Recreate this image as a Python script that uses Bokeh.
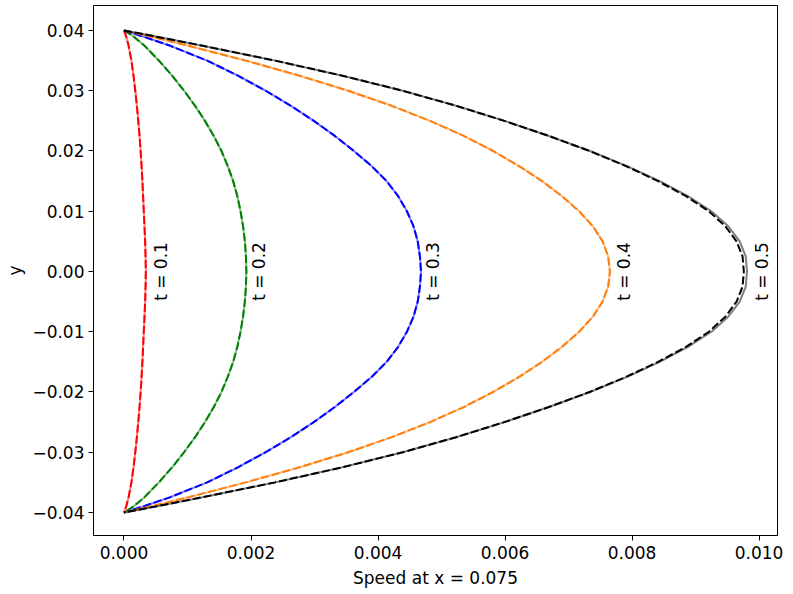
import math
from bokeh.plotting import figure
from bokeh.models import Range1d, FixedTicker, CustomJSTickFormatter, ColumnDataSource
from bokeh.embed import file_html
from bokeh.resources import INLINE
from bokeh.core.properties import value

# y positions across the channel (shared by all profiles)
y_vals = [0.04, 0.039, 0.0375, 0.035, 0.0325, 0.03, 0.0275, 0.025, 0.0225, 0.02,
          0.0175, 0.015, 0.0125, 0.01, 0.0075, 0.005, 0.0025, 0.0,
          -0.0025, -0.005, -0.0075, -0.01, -0.0125, -0.015, -0.0175, -0.02,
          -0.0225, -0.025, -0.0275, -0.03, -0.0325, -0.035, -0.0375, -0.039, -0.04]

# speeds in units of 1e-3
speed_t01 = [0, 0.035, 0.072, 0.117, 0.150, 0.178, 0.203, 0.225, 0.245, 0.262,
             0.277, 0.290, 0.301, 0.312, 0.323, 0.333, 0.340, 0.344,
             0.340, 0.333, 0.323, 0.312, 0.301, 0.290, 0.277, 0.262,
             0.245, 0.225, 0.203, 0.178, 0.150, 0.117, 0.072, 0.035, 0]
speed_t02 = [0, 0.15, 0.32, 0.55, 0.758, 0.947, 1.119, 1.275, 1.414, 1.535,
             1.634, 1.719, 1.785, 1.835, 1.875, 1.903, 1.920, 1.927,
             1.920, 1.903, 1.875, 1.835, 1.785, 1.719, 1.634, 1.535,
             1.414, 1.275, 1.119, 0.947, 0.758, 0.55, 0.32, 0.15, 0]
speed_t03 = [0, 0.30, 0.72, 1.31, 1.794, 2.231, 2.628, 2.989, 3.320, 3.620,
             3.899, 4.135, 4.317, 4.455, 4.559, 4.625, 4.660, 4.677,
             4.660, 4.625, 4.559, 4.455, 4.317, 4.135, 3.899, 3.620,
             3.320, 2.989, 2.628, 2.231, 1.794, 1.31, 0.72, 0.30, 0]
speed_t04 = [0, 0.42, 1.0, 1.92, 2.765, 3.531, 4.216, 4.820, 5.349, 5.813,
             6.222, 6.582, 6.898, 7.167, 7.383, 7.536, 7.624, 7.652,
             7.624, 7.536, 7.383, 7.167, 6.898, 6.582, 6.222, 5.813,
             5.349, 4.820, 4.216, 3.531, 2.765, 1.92, 1.0, 0.42, 0]
speed_t05 = [0, 0.50, 1.22, 2.38, 3.44, 4.39, 5.23, 5.99, 6.69, 7.33,
             7.905, 8.41, 8.85, 9.21, 9.47, 9.645, 9.74, 9.76,
             9.74, 9.645, 9.47, 9.21, 8.85, 8.41, 7.905, 7.33,
             6.69, 5.99, 5.23, 4.39, 3.44, 2.38, 1.22, 0.50, 0]
speed_t05_solid = [0, 0.50, 1.22, 2.38, 3.44, 4.39, 5.23, 5.99, 6.69, 7.34,
                   7.92, 8.435, 8.88, 9.25, 9.515, 9.695, 9.79, 9.81,
                   9.79, 9.695, 9.515, 9.25, 8.88, 8.435, 7.92, 7.34,
                   6.69, 5.99, 5.23, 4.39, 3.44, 2.38, 1.22, 0.50, 0]

times = ["0.1", "0.2", "0.3", "0.4", "0.5"]
colors = ["#ff0000", "#008000", "#0000ff", "#ff7f0e", "#000000"]
dashed_series = [speed_t01, speed_t02, speed_t03, speed_t04, speed_t05]
solid_series = [speed_t01, speed_t02, speed_t03, speed_t04, speed_t05_solid]
label_x = [0.575, 2.13, 4.86, 7.87, 10.05]  # 1e-3 units
label_text = ["t = " + t for t in times]

x_ticks = [0.0, 0.002, 0.004, 0.006, 0.008, 0.010]
y_ticks = [-0.04, -0.03, -0.02, -0.01, 0.0, 0.01, 0.02, 0.03, 0.04]

MILLI = 1e-3
FONT = "DejaVu Sans"
FS = "17px"

p = figure(width=793, height=594,
           x_range=Range1d(-0.00048, 0.01029), y_range=Range1d(-0.04382, 0.04415),
           output_backend="svg", toolbar_location=None,
           min_border_left=93, min_border_right=16, min_border_top=5, min_border_bottom=59)

p.background_fill_color = "white"
p.border_fill_color = "white"
p.outline_line_color = "black"
p.outline_line_width = 1
p.xgrid.visible = False
p.ygrid.visible = False

for sol, das, col in zip(solid_series, dashed_series, colors):
    src_s = ColumnDataSource(dict(x=[v * MILLI for v in sol], y=y_vals))
    src_d = ColumnDataSource(dict(x=[v * MILLI for v in das], y=y_vals))
    p.line("x", "y", source=src_s, line_color=col, line_alpha=0.5, line_width=2)
    p.line("x", "y", source=src_d, line_color=col, line_width=2, line_dash="8 3")

p.text(x=[v * MILLI for v in label_x], y=[0.0] * len(label_x), text=label_text,
       angle=math.pi / 2, text_align="center", text_baseline="middle",
       text_font=value(FONT), text_font_size=FS, text_color="black")

for ax in (p.xaxis[0], p.yaxis[0]):
    ax.major_label_text_font = FONT
    ax.major_label_text_font_size = FS
    ax.major_label_text_color = "black"
    ax.axis_label_text_font = FONT
    ax.axis_label_text_font_size = FS
    ax.axis_label_text_font_style = "normal"
    ax.axis_label_text_color = "black"
    ax.major_tick_out = 5
    ax.major_tick_in = 0
    ax.minor_tick_line_color = None
    ax.major_tick_line_color = "black"
    ax.axis_line_color = "black"

p.xaxis[0].ticker = FixedTicker(ticks=x_ticks)
p.yaxis[0].ticker = FixedTicker(ticks=y_ticks)
p.xaxis[0].formatter = CustomJSTickFormatter(code="return tick.toFixed(3).replace('-', '\u2212');")
p.yaxis[0].formatter = CustomJSTickFormatter(code="return tick.toFixed(2).replace('-', '\u2212');")
p.xaxis[0].axis_label = "Speed at x = 0.075"
p.yaxis[0].axis_label = "y"
p.xaxis[0].major_label_standoff = 5
p.yaxis[0].major_label_standoff = 4
p.xaxis[0].axis_label_standoff = 6
p.yaxis[0].axis_label_standoff = 4

open("out.html", "w").write(file_html(p, INLINE))
